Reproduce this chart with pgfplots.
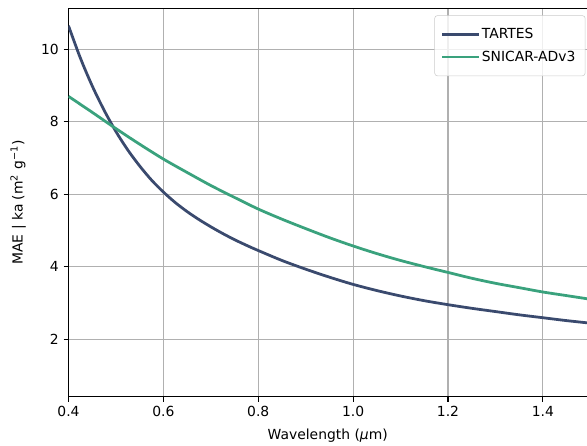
\documentclass[border=0pt]{standalone}
\usepackage{fontspec}
\setmainfont{DejaVu Sans}
\usepackage{pgfplots}
\pgfplotsset{compat=1.18}
\usetikzlibrary{calc}
\definecolor{Tartes}{HTML}{3A4A6E}
\definecolor{Snicar}{HTML}{3AA27D}
\definecolor{GridGray}{HTML}{B0B0B0}
\definecolor{LegEdge}{HTML}{CCCCCC}

\pgfplotstableread{
x y
0.400 10.65
0.425 9.76
0.450 8.99
0.475 8.32
0.500 7.73
0.525 7.22
0.550 6.78
0.575 6.39
0.600 6.06
0.625 5.77
0.650 5.52
0.675 5.30
0.700 5.10
0.725 4.915
0.750 4.745
0.775 4.59
0.800 4.445
0.850 4.17
0.900 3.93
0.950 3.71
1.000 3.51
1.050 3.34
1.100 3.19
1.150 3.06
1.200 2.95
1.250 2.85
1.300 2.76
1.350 2.67
1.400 2.59
1.450 2.51
1.500 2.44
}\tartes

\pgfplotstableread{
x y
0.40 8.70
0.45 8.26
0.50 7.81
0.55 7.38
0.60 6.97
0.65 6.60
0.70 6.24
0.75 5.91
0.80 5.59
0.85 5.31
0.90 5.05
0.95 4.80
1.00 4.57
1.05 4.36
1.10 4.17
1.15 4.00
1.20 3.84
1.25 3.68
1.30 3.54
1.35 3.42
1.40 3.30
1.45 3.20
1.50 3.10
}\snicar

\begin{document}
\begin{tikzpicture}
\begin{axis}[
  scale only axis,
  width=373.3pt, height=279.6pt,
  xmin=0.4, xmax=1.493,
  ymin=0.41, ymax=11.13,
  axis x line*=box, axis y line*=left,
  xtick={0.4,0.6,0.8,1.0,1.2,1.4},
  ytick={2,4,6,8,10},
  xticklabel style={/pgf/number format/.cd,fixed,fixed zerofill,precision=1},
  /pgf/number format/assume math mode=true,
  tick label style={font=\fontsize{10}{12}\selectfont},
  label style={font=\fontsize{10}{12}\selectfont},
  tick align=outside, tick pos=left,
  major tick length=3.5pt,
  every tick/.style={black,line width=0.8pt},
  axis line style={black,line width=0.8pt},
  grid=major, grid style={GridGray,line width=0.8pt},
  xlabel={Wavelength (\textit{μ}m)},
  ylabel={MAE | ka (m\textsuperscript{2} g\textsuperscript{−1})},
  xlabel style={yshift=-1.5pt},
  ylabel style={yshift=4pt},
  legend style={at={(0.997,0.982)},anchor=north east,
    draw=LegEdge,fill=white,fill opacity=0.8,text opacity=1,draw opacity=1,
    rounded corners=2pt,font=\fontsize{10}{12}\selectfont,
    inner xsep=5pt,inner ysep=7pt,row sep=3.5pt},
  legend cell align=left,
  legend image code/.code={\draw[#1,line cap=rect] (0pt,0pt) -- (25pt,0pt);},
]
\addplot[Tartes,line width=2pt,smooth] table[x=x,y=y] {\tartes};
\addlegendentry{TARTES}
\addplot[Snicar,line width=2pt,smooth] table[x=x,y=y] {\snicar};
\addlegendentry{SNICAR-ADv3}
\end{axis}
\pgfresetboundingbox
\path[use as bounding box] ($(current axis.south west)+(-49.3pt,-34.8pt)$) rectangle ($(current axis.north east)+(0pt,6pt)$);
\end{tikzpicture}
\end{document}
